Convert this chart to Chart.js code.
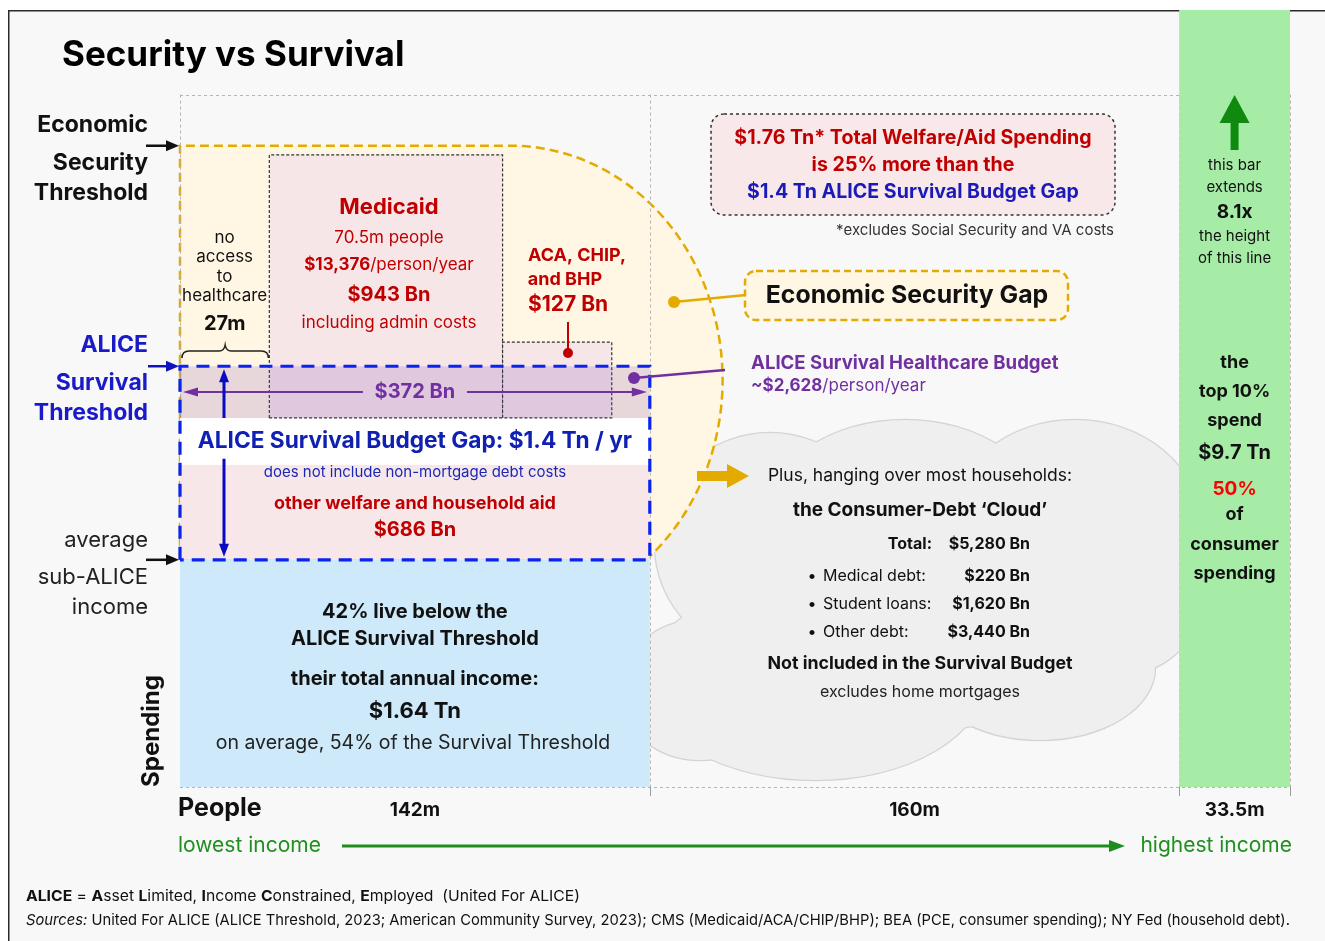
<!DOCTYPE html>
<html>
<head>
<meta charset="utf-8">
<title>Security vs Survival</title>
<script src="https://cdn.jsdelivr.net/npm/chart.js@4.4.1/dist/chart.umd.min.js"></script>
<style>
  html, body { margin: 0; padding: 0; background: #fff; }
  canvas { display: block; }
</style>
</head>
<body>
<canvas id="chart" width="1325" height="941"></canvas>
<script>
// people in each income group (millions), lowest income first
const groups = ["below ALICE threshold", "ALICE to top 10%", "top 10%"];
const groupPeople = [142, 160, 33.5];
const groupLabels = ["142m", "160m", "33.5m"];

// spending per person, $ thousands per year
const thresholdNames = ["average sub-ALICE income", "ALICE Survival Threshold", "Economic Security Threshold"];
const thresholdValues = [11.55, 21.39, 32.6];
const healthcareBudget = 2.628;      // ALICE survival healthcare budget per person
const otherAidBn = 686;              // other welfare and household aid, $ Bn

// healthcare coverage among the 142m
const coverageNames = ["no access to healthcare", "Medicaid", "ACA, CHIP, and BHP"];
const coveragePeople = [27, 70.5, 33];
const coveragePerPerson = [0, 13.376, 3.85];

const topBarMultiple = 8.1;          // top 10% bar vs the security line

// axis extent (value at the frame top, and the dotted plot top)
const yTop = 39.5;
const plotTop = 35.2;

// shape of the economic security gap outline
const gapShape = { centreX: 100, rightX: 164, midY: 20.7 };

const FAM = 'Inter, "Noto Sans", sans-serif';
const RED = "#c00000", BLUE = "#1a1ac8", PURPLE = "#7030a0", GREEN = "#1f8f1f", GOLD = "#e3aa00";

const xEdges = [0];
groupPeople.forEach(p => xEdges.push(xEdges[xEdges.length - 1] + p));
const cEdges = [0];
coveragePeople.forEach(p => cEdges.push(cEdges[cEdges.length - 1] + p));
const [subAlice, survival, security] = thresholdValues;
const healthLow = survival - healthcareBudget;
const aidTop = subAlice + otherAidBn / groupPeople[0];
const topBar = security * topBarMultiple;

function box(x0, x1, y0, y1, style) {
  return Object.assign({
    data: [{x: x0, y: y0}, {x: x0, y: y1}, {x: x1, y: y1}, {x: x1, y: y0}, {x: x0, y: y0}],
    fill: "shape", borderWidth: 0, borderColor: "transparent",
    pointRadius: 0, tension: 0, borderJoinStyle: "miter"
  }, style);
}

const layers = [
  box(xEdges[0], xEdges[1], 0, subAlice, {label: groups[0], backgroundColor: "#cde9fa"}),
  box(xEdges[2], xEdges[3], 0, topBar, {label: groups[2], backgroundColor: "#a6eca6"}),
  box(xEdges[0], xEdges[1], subAlice, aidTop, {label: "other aid", backgroundColor: "#f7e7e9"}),
  box(xEdges[0], xEdges[1], aidTop, healthLow, {label: "gap", backgroundColor: "#ffffff"}),
  box(cEdges[1], cEdges[2], healthLow, healthLow + coveragePerPerson[1],
      {label: coverageNames[1], backgroundColor: "#f7e6e7", borderColor: "#333", borderWidth: 1.2, borderDash: [3, 2]}),
  box(cEdges[2], cEdges[3], healthLow, healthLow + coveragePerPerson[2],
      {label: coverageNames[2], backgroundColor: "#f7e6e7", borderColor: "#333", borderWidth: 1.2, borderDash: [3, 2]}),
  box(xEdges[0], xEdges[1], healthLow, survival, {label: "healthcare budget", backgroundColor: "rgba(115,60,185,0.17)"}),
  box(xEdges[0], xEdges[1], subAlice, survival,
      {label: "survival gap", fill: false, borderColor: "#0a24f0", borderWidth: 3.2, borderDash: [13, 8], clip: 4})
];
layers.forEach((d, i) => { d.order = layers.length - i; });

function font(size, w, st) { return (st || "normal") + " " + (w || 400) + " " + size + "px " + FAM; }
function text(c, s, x, y, size, o) {
  o = o || {};
  c.font = font(size, o.w, o.st);
  c.fillStyle = o.color || "#111";
  c.textAlign = o.align || "center";
  c.textBaseline = "middle";
  c.fillText(s, x, y);
}
function rich(c, segs, x, y, size, o) {
  o = o || {};
  const widths = segs.map(s => { c.font = font(size, s[1], s[3]); return c.measureText(s[0]).width; });
  const total = widths.reduce((a, b) => a + b, 0);
  const k = o.fit ? o.fit / total : 1;
  const start = o.align === "left" ? x : o.align === "right" ? x - total * k : x - total * k / 2;
  c.save();
  c.translate(start, y);
  c.scale(k, 1);
  let cx = 0;
  segs.forEach((s, i) => {
    c.font = font(size, s[1], s[3]);
    c.fillStyle = s[2] || o.color || "#111";
    c.textAlign = "left";
    c.textBaseline = "middle";
    c.fillText(s[0], cx, 0);
    cx += widths[i];
  });
  c.restore();
}
function head(c, x, y, a, hl, hw) {
  const bx = x - hl * Math.cos(a), by = y - hl * Math.sin(a);
  const nx = -Math.sin(a) * hw / 2, ny = Math.cos(a) * hw / 2;
  c.beginPath();
  c.moveTo(x, y);
  c.lineTo(bx + nx, by + ny);
  c.lineTo(bx - nx, by - ny);
  c.closePath();
  c.fill();
}
function arrow(c, x1, y1, x2, y2, color, lw, hl, hw, both) {
  const a = Math.atan2(y2 - y1, x2 - x1);
  c.save();
  c.setLineDash([]);
  c.strokeStyle = c.fillStyle = color;
  c.lineWidth = lw;
  c.beginPath();
  c.moveTo(both ? x1 + Math.cos(a) * hl * 0.8 : x1, both ? y1 + Math.sin(a) * hl * 0.8 : y1);
  c.lineTo(x2 - Math.cos(a) * hl * 0.8, y2 - Math.sin(a) * hl * 0.8);
  c.stroke();
  head(c, x2, y2, a, hl, hw);
  if (both) head(c, x1, y1, a + Math.PI, hl, hw);
  c.restore();
}
function dot(c, x, y, r, color) {
  c.beginPath(); c.arc(x, y, r, 0, Math.PI * 2); c.fillStyle = color; c.fill();
}

// cloud lobes (pixel ellipses)
const cloudLobes = [
  [770, 545, 115, 112], [905, 520, 140, 100], [1075, 525, 125, 105], [1120, 600, 80, 75],
  [1040, 668, 115, 72], [815, 680, 170, 100], [700, 690, 80, 70], [920, 600, 220, 130]
];

const backdrop = {
  id: "backdrop",
  beforeDraw(chart) {
    const c = chart.ctx, X = chart.scales.x, Y = chart.scales.y;
    const W = chart.width, H = chart.height;
    c.save();
    c.fillStyle = "#ffffff"; c.fillRect(0, 0, W, H);
    c.fillStyle = "#f8f8f8"; c.fillRect(9, 11, W, H);
    c.strokeStyle = "#2a2a2a"; c.lineWidth = 1.5; c.strokeRect(8.75, 10.75, W + 20, H + 20);

    // debt cloud
    c.strokeStyle = "#d4d4d4"; c.lineWidth = 2.5;
    cloudLobes.forEach(l => { c.beginPath(); c.ellipse(l[0], l[1], l[2], l[3], 0, 0, Math.PI * 2); c.stroke(); });
    c.fillStyle = "#efefef";
    cloudLobes.forEach(l => { c.beginPath(); c.ellipse(l[0], l[1], l[2], l[3], 0, 0, Math.PI * 2); c.fill(); });

    // economic security gap
    const x0 = X.getPixelForValue(0), xc = X.getPixelForValue(gapShape.centreX), xr = X.getPixelForValue(gapShape.rightX);
    const yS = Y.getPixelForValue(security), yB = Y.getPixelForValue(subAlice), yc = Y.getPixelForValue(gapShape.midY);
    const rx = xr - xc, ry = yc - yS;
    const tEnd = Math.asin(Math.min(1, (yB - yc) / ry));
    c.beginPath();
    c.moveTo(x0, yB);
    c.lineTo(x0, yS);
    c.lineTo(xc, yS);
    c.ellipse(xc, yc, rx, ry, 0, -Math.PI / 2, tEnd, false);
    c.closePath();
    c.fillStyle = "#fff7e3";
    c.fill();
    c.setLineDash([9, 5]);
    c.strokeStyle = GOLD; c.lineWidth = 2.5;
    c.stroke();
    c.restore();
  },
  beforeDatasetsDraw(chart) {
    const c = chart.ctx, X = chart.scales.x, Y = chart.scales.y;
    const yT = Y.getPixelForValue(plotTop), y0 = Y.getPixelForValue(0);
    c.save();
    c.strokeStyle = "#b4b4b4"; c.lineWidth = 1; c.setLineDash([3, 3]);
    c.beginPath();
    xEdges.forEach(v => { const x = Math.round(X.getPixelForValue(v)) + 0.5; c.moveTo(x, yT); c.lineTo(x, y0); });
    c.moveTo(X.getPixelForValue(0), Math.round(yT) + 0.5); c.lineTo(X.getPixelForValue(xEdges[3]), Math.round(yT) + 0.5);
    c.moveTo(X.getPixelForValue(0), Math.round(y0) + 0.5); c.lineTo(X.getPixelForValue(xEdges[3]), Math.round(y0) + 0.5);
    c.stroke();
    c.setLineDash([]); c.strokeStyle = "#9a9a9a";
    c.beginPath();
    xEdges.slice(1).forEach(v => { const x = Math.round(X.getPixelForValue(v)) + 0.5; c.moveTo(x, y0); c.lineTo(x, y0 + 9); });
    c.stroke();
    c.restore();
  },
  afterDatasetsDraw(chart) {
    const c = chart.ctx, X = chart.scales.x, Y = chart.scales.y;
    const px = v => X.getPixelForValue(v), py = v => Y.getPixelForValue(v);
    c.save();

    // title
    text(c, "Security vs Survival", 62, 55, 35, {w: 700, align: "left", color: "#000"});

    // threshold labels
    ["Economic", "Security", "Threshold"].forEach((s, i) => text(c, s, 148, [125, 163, 193][i], 23, {w: 700, align: "right", color: "#111"}));
    ["ALICE", "Survival", "Threshold"].forEach((s, i) => text(c, s, 148, [345, 383, 413][i], 23, {w: 700, align: "right", color: BLUE}));
    ["average", "sub-ALICE", "income"].forEach((s, i) => text(c, s, 148, [540, 577, 607][i], 22, {w: 400, align: "right", color: "#222"}));
    arrow(c, 146, py(security), px(0) - 1, py(security), "#111", 2.5, 13, 11);
    arrow(c, 148, py(survival), px(0) - 1, py(survival), "#1212c0", 2.5, 13, 11);
    arrow(c, 146, py(subAlice), px(0) - 1, py(subAlice), "#111", 2.5, 13, 11);

    // Spending axis title
    c.save();
    c.translate(152, 731);
    c.rotate(-Math.PI / 2);
    text(c, "Spending", 0, 0, 24, {w: 700, color: "#111"});
    c.restore();

    // no access
    const naX = (px(cEdges[0]) + px(cEdges[1])) / 2;
    ["no", "access", "to", "healthcare"].forEach((s, i) => text(c, s, naX, [238, 257, 277, 296][i], 17, {color: "#111"}));
    text(c, coveragePeople[0] + "m", naX, 324, 20, {w: 700, color: "#111"});
    c.strokeStyle = "#222"; c.lineWidth = 1.5; c.setLineDash([]);
    const bL = px(cEdges[0]) + 2, bR = px(cEdges[1]) - 1, bM = (bL + bR) / 2;
    c.beginPath();
    c.moveTo(bL, 358); c.quadraticCurveTo(bL, 351, bL + 7, 351); c.lineTo(bM - 6, 351);
    c.quadraticCurveTo(bM - 1, 351, bM, 345); c.quadraticCurveTo(bM + 1, 351, bM + 6, 351);
    c.lineTo(bR - 7, 351); c.quadraticCurveTo(bR, 351, bR, 358);
    c.stroke();

    // Medicaid
    const mX = (px(cEdges[1]) + px(cEdges[2])) / 2 + 3;
    text(c, coverageNames[1], mX, 207, 22, {w: 700, color: RED});
    text(c, coveragePeople[1] + "m people", mX, 238, 17, {color: RED});
    rich(c, [["$13,376", 700], ["/person/year", 400]], mX, 265, 17, {color: RED});
    text(c, "$943 Bn", mX, 295, 20, {w: 700, color: RED});
    text(c, "including admin costs", mX, 323, 17, {color: RED});

    // ACA
    text(c, "ACA, CHIP,", 577, 256, 18, {w: 700, color: RED});
    text(c, "and BHP", 565, 280, 18, {w: 700, color: RED});
    text(c, "$127 Bn", 568, 305, 21, {w: 700, color: RED});
    c.strokeStyle = RED; c.lineWidth = 2;
    c.beginPath(); c.moveTo(568, 322); c.lineTo(568, 352); c.stroke();
    dot(c, 568, 353, 5, RED);

    // healthcare budget band
    const bandY = py((healthLow + survival) / 2);
    const gX = (px(0) + px(xEdges[1])) / 2;
    text(c, "$372 Bn", gX, bandY, 20, {w: 700, color: PURPLE});
    arrow(c, gX - 52, bandY, px(0) + 3, bandY, PURPLE, 2, 15, 9);
    arrow(c, gX + 52, bandY, px(xEdges[1]) - 3, bandY, PURPLE, 2, 15, 9);

    // survival gap: double arrow interrupted by the white label band
    const aTop = py(survival) + 3, aBot = py(subAlice) - 3;
    c.save();
    c.strokeStyle = c.fillStyle = "#0a0ac0"; c.lineWidth = 3;
    c.beginPath();
    c.moveTo(224, aTop + 10); c.lineTo(224, py(healthLow));
    c.moveTo(224, py(aidTop) - 6); c.lineTo(224, aBot - 10);
    c.stroke();
    head(c, 224, aTop, -Math.PI / 2, 13, 10);
    head(c, 224, aBot, Math.PI / 2, 13, 10);
    c.restore();
    text(c, "ALICE Survival Budget Gap: $1.4 Tn / yr", gX, py((aidTop + healthLow) / 2), 22.7, {w: 700, color: "#1020b0"});
    text(c, "does not include non-mortgage debt costs", gX, 472, 15, {color: "#1a28b8"});
    text(c, "other welfare and household aid", gX, 504, 18, {w: 700, color: RED});
    text(c, "$" + otherAidBn + " Bn", gX, 530, 20, {w: 700, color: RED});

    // below ALICE bar
    text(c, "42% live below the", gX, 612, 20, {w: 700, color: "#111"});
    text(c, "ALICE Survival Threshold", gX, 639, 20, {w: 700, color: "#111"});
    text(c, "their total annual income:", gX, 679, 20, {w: 700, color: "#111"});
    text(c, "$1.64 Tn", gX, 711, 22, {w: 700, color: "#111"});
    text(c, "on average, 54% of the Survival Threshold", gX - 2, 743, 19.5, {color: "#222"});

    // welfare box
    c.beginPath(); c.roundRect(711, 114, 404, 101, 13);
    c.fillStyle = "#f9e8e9"; c.fill();
    c.setLineDash([3, 3]); c.strokeStyle = "#333"; c.lineWidth = 1.5; c.stroke(); c.setLineDash([]);
    text(c, "$1.76 Tn* Total Welfare/Aid Spending", 913, 138, 19.6, {w: 700, color: RED});
    text(c, "is 25% more than the", 913, 165, 19.6, {w: 700, color: RED});
    text(c, "$1.4 Tn ALICE Survival Budget Gap", 913, 192, 19.6, {w: 700, color: "#1a1ab8"});
    text(c, "*excludes Social Security and VA costs", 1114, 230, 15, {align: "right", color: "#333"});

    // Economic Security Gap callout
    c.strokeStyle = GOLD; c.lineWidth = 2.5;
    c.beginPath(); c.moveTo(674, 302); c.lineTo(746, 295); c.stroke();
    dot(c, 674, 302, 6, GOLD);
    c.beginPath(); c.roundRect(745, 271, 323, 49, 11);
    c.fillStyle = "#fff7e3"; c.fill();
    c.setLineDash([7, 4]); c.stroke(); c.setLineDash([]);
    text(c, "Economic Security Gap", 907, 296, 24.8, {w: 700, color: "#111"});

    // healthcare budget callout
    c.strokeStyle = PURPLE; c.lineWidth = 2.5;
    c.beginPath(); c.moveTo(634, 378); c.lineTo(725, 370); c.stroke();
    dot(c, 634, 378, 6, PURPLE);
    text(c, "ALICE Survival Healthcare Budget", 751, 363, 18.6, {w: 700, align: "left", color: PURPLE});
    rich(c, [["~$2,628", 700], ["/person/year", 400]], 751, 386, 17, {align: "left", color: PURPLE});

    // cloud
    c.fillStyle = GOLD;
    c.beginPath();
    c.moveTo(697, 471); c.lineTo(727, 471); c.lineTo(727, 464); c.lineTo(749, 476);
    c.lineTo(727, 488); c.lineTo(727, 481); c.lineTo(697, 481); c.closePath(); c.fill();
    text(c, "Plus, hanging over most households:", 920, 476, 17.5, {color: "#111"});
    text(c, "the Consumer-Debt \u2018Cloud\u2019", 920, 510, 19, {w: 700, color: "#111"});
    text(c, "Total:", 932, 544, 16, {w: 700, align: "right", color: "#111"});
    text(c, "$5,280 Bn", 1030, 544, 16, {w: 700, align: "right", color: "#111"});
    [["Medical debt:", "$220 Bn", 576], ["Student loans:", "$1,620 Bn", 604], ["Other debt:", "$3,440 Bn", 632]].forEach(r => {
      text(c, "\u2022", 812, r[2], 16, {color: "#111"});
      text(c, r[0], 823, r[2], 16, {align: "left", color: "#111"});
      text(c, r[1], 1030, r[2], 16, {w: 700, align: "right", color: "#111"});
    });
    text(c, "Not included in the Survival Budget", 920, 664, 17.8, {w: 700, color: "#111"});
    text(c, "excludes home mortgages", 920, 692, 16, {color: "#222"});

    // top 10% bar
    const tX = (px(xEdges[2]) + px(xEdges[3])) / 2;
    c.fillStyle = "#0f8a0f";
    c.fillRect(tX - 4, 122, 8, 28);
    c.beginPath(); c.moveTo(tX - 15, 123); c.lineTo(tX, 95); c.lineTo(tX + 15, 123); c.closePath(); c.fill();
    text(c, "this bar", tX, 165, 15, {color: "#111"});
    text(c, "extends", tX, 187, 15, {color: "#111"});
    text(c, topBarMultiple + "x", tX, 212, 19, {w: 700, color: "#111"});
    text(c, "the height", tX, 236, 15, {color: "#111"});
    text(c, "of this line", tX, 258, 15, {color: "#111"});
    ["the", "top 10%", "spend"].forEach((s, i) => text(c, s, tX, [363, 392, 421][i], 18, {w: 700, color: "#111"}));
    text(c, "$9.7 Tn", tX, 453, 20, {w: 700, color: "#111"});
    text(c, "50%", tX, 489, 19, {w: 700, color: "#ff0000"});
    ["of", "consumer", "spending"].forEach((s, i) => text(c, s, tX, [515, 545, 574][i], 18, {w: 700, color: "#111"}));

    // x axis labels
    text(c, "People", 178, 808, 25, {w: 700, align: "left", color: "#111"});
    groupLabels.forEach((s, i) => text(c, s, (px(xEdges[i]) + px(xEdges[i + 1])) / 2, 810, 19, {w: 700, color: "#111"}));
    text(c, "lowest income", 178, 846, 21, {align: "left", color: GREEN});
    text(c, "highest income", 1292, 846, 21, {align: "right", color: GREEN});
    arrow(c, 342, 846, 1125, 846, "#1e8c1e", 3, 16, 12);

    // footer
    rich(c, [["ALICE", 700], [" = ", 400], ["A", 700], ["sset ", 400], ["L", 700], ["imited, ", 400], ["I", 700], ["ncome ", 400],
             ["C", 700], ["onstrained, ", 400], ["E", 700], ["mployed  (United For ALICE)", 400]], 26, 896, 15, {align: "left", color: "#111", fit: 554});
    rich(c, [["Sources:", 400, "#111", "italic"],
             [" United For ALICE (ALICE Threshold, 2023; American Community Survey, 2023); CMS (Medicaid/ACA/CHIP/BHP); BEA (PCE, consumer spending); NY Fed (household debt).", 400]],
         26, 920, 15, {align: "left", color: "#111", fit: 1264});
    c.restore();
  }
};

new Chart(document.getElementById("chart"), {
  type: "line",
  data: { datasets: layers },
  options: {
    responsive: false,
    animation: false,
    events: [],
    layout: { padding: { left: 180, right: 35, top: 10, bottom: 154 } },
    scales: {
      x: { type: "linear", min: 0, max: xEdges[3], display: false },
      y: { type: "linear", min: 0, max: yTop, display: false }
    },
    plugins: { legend: { display: false }, tooltip: { enabled: false } }
  },
  plugins: [backdrop]
});
</script>
</body>
</html>
